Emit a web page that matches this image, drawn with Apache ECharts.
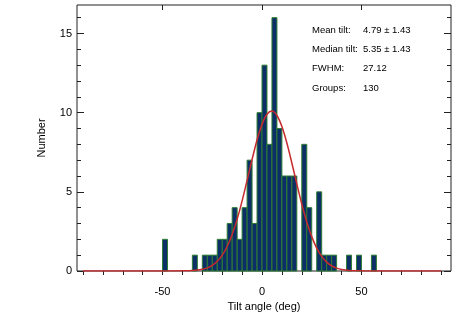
<!DOCTYPE html>
<html>
<head>
<meta charset="utf-8">
<script src="https://cdn.jsdelivr.net/npm/echarts@6/dist/echarts.min.js"></script>
<style>
html,body{margin:0;padding:0;background:#fff;}
#chart{width:474px;height:320px;}
</style>
</head>
<body>
<div id="chart"></div>
<script>
// Histogram bins (left edge, deg) and counts
var binWidth = 2.5;
var binStarts = [-50,-35,-30,-27.5,-25,-22.5,-20,-17.5,-15,-12.5,-10,-7.5,-5,-2.5,0,2.5,5,7.5,10,12.5,15,20,22.5,27.5,30,32.5,35,42.5,47.5,55];
var counts    = [2,1,1,1,1,2,2,3,4,2,4,7,3,10,13,8,16,9,6,6,6,8,4,5,1,1,1,1,1,1];

// Gaussian fit curve
var fitX = [-90,-45,-40,-35,-30,-27.5,-25,-22.5,-20,-17.5,-15,-12.5,-10,-7.5,-5,-2.5,0,2.5,5,7.5,10,12.5,15,17.5,20,22.5,25,27.5,30,32.5,35,37.5,40,45,50,55,90];
var fitY = [0,0,0.01,0.03,0.11,0.2,0.36,0.61,1.0,1.55,2.31,3.27,4.43,5.72,7.04,8.27,9.26,9.9,10.1,9.82,9.12,8.08,6.82,5.5,4.22,3.1,2.17,1.45,0.92,0.56,0.32,0.18,0.1,0.02,0.01,0,0];

// Axis ticks / labels
var xLabelValues = [-50,0,50];
var xTickValues = [-90,-80,-70,-60,-50,-40,-30,-20,-10,0,10,20,30,40,50,60,70,80,90];
var yMajorValues = [0,5,10,15];
var yMinorValues = [1,2,3,4,6,7,8,9,11,12,13,14,16];

// Statistics box
var statLabels = ['Mean tilt:','Median tilt:','FWHM:','Groups:'];
var statValues = ['4.79 \u00b1 1.43','5.35 \u00b1 1.43','27.12','130'];

var FONT = '"Liberation Sans", Arial, Helvetica, sans-serif';
var xMin = -93, xMax = 95, yMin = 0, yMax = 16.8;

var chart = echarts.init(document.getElementById('chart'), null, {renderer:'canvas'});

function yAxisDef(pos, values, len, showLabel){
  return {
    type:'value', position:pos, min:yMin, max:yMax,
    axisLine:{show:false, onZero:false}, splitLine:{show:false},
    axisTick:{show:true, inside:true, length:len, customValues:values, lineStyle:{color:'#222',width:1}},
    axisLabel:{show:showLabel, customValues:values, margin:5, fontSize:11, color:'#000', fontFamily:FONT},
    name: showLabel ? 'Number' : '', nameLocation:'middle', nameGap:30, nameRotate:90,
    nameTextStyle:{fontSize:11, color:'#000', fontFamily:FONT}
  };
}

var histData = binStarts.map(function(x,i){ return [x, counts[i]]; });
var fitData = fitX.map(function(x,i){ return [x, fitY[i]]; });

var gList = [];
statLabels.forEach(function(t,i){
  gList.push({type:'text', left:312, top:25 + i*19.3, style:{text:t, font:'9.5px '+FONT, fill:'#000'}});
  gList.push({type:'text', left:363, top:25 + i*19.3, style:{text:statValues[i], font:'9.5px '+FONT, fill:'#000'}});
});

chart.setOption({
  animation:false,
  backgroundColor:'#fff',
  grid:{left:77, right:23, top:5, bottom:49, show:true, borderColor:'#222', borderWidth:1, backgroundColor:'transparent'},
  xAxis:[
    {type:'value', position:'bottom', min:xMin, max:xMax,
     axisLine:{show:false, onZero:false}, splitLine:{show:false},
     axisTick:{show:true, inside:false, length:4, customValues:xTickValues, lineStyle:{color:'#222'}},
     axisLabel:{customValues:xLabelValues, margin:15, fontSize:11, color:'#000', fontFamily:FONT},
     name:'Tilt angle (deg)', nameLocation:'middle', nameGap:30,
     nameTextStyle:{fontSize:11, color:'#000', fontFamily:FONT}},
    {type:'value', position:'top', min:xMin, max:xMax,
     axisLine:{show:false, onZero:false}, splitLine:{show:false},
     axisTick:{show:true, inside:true, length:5, customValues:xLabelValues, lineStyle:{color:'#222'}},
     axisLabel:{show:false}}
  ],
  yAxis:[
    yAxisDef('left', yMajorValues, 7, true),
    yAxisDef('left', yMinorValues, 4, false),
    yAxisDef('right', yMajorValues, 7, false),
    yAxisDef('right', yMinorValues, 4, false)
  ],
  series:[
    {type:'custom', xAxisIndex:0, yAxisIndex:0, data:histData, z:2,
     renderItem:function(params, api){
       var x0 = api.value(0), c = api.value(1);
       var p0 = api.coord([x0, c]);
       var p1 = api.coord([x0 + binWidth, 0]);
       return {type:'rect',
         shape:{x:p0[0], y:p0[1], width:p1[0]-p0[0], height:p1[1]-p0[1]},
         style:{fill:'#0b2f66', stroke:'#2e7d32', lineWidth:1}};
     }},
    {type:'line', xAxisIndex:0, yAxisIndex:0, data:fitData, z:3, smooth:0.3,
     showSymbol:false, symbol:'none',
     lineStyle:{color:'#c62a2f', width:1.5}}
  ],
  graphic:gList
});
</script>
</body>
</html>
